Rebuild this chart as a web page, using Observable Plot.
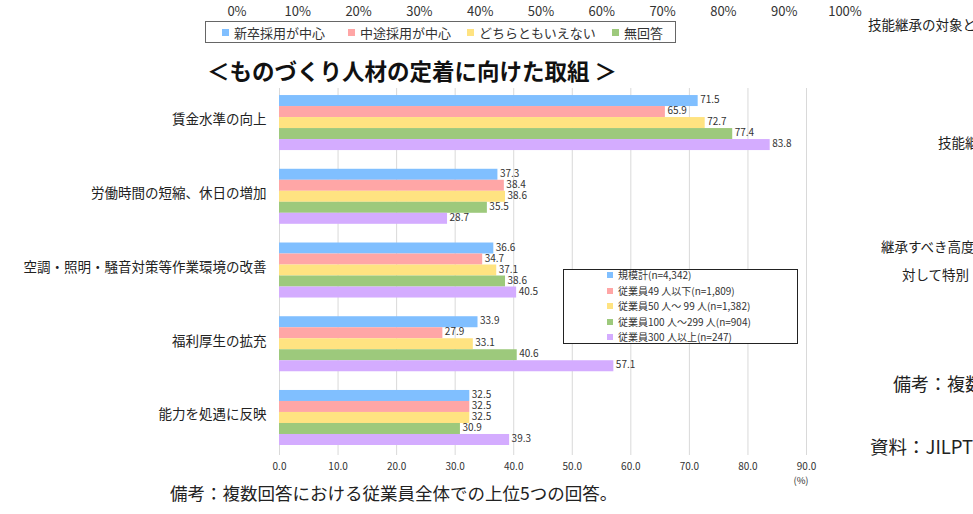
<!DOCTYPE html>
<html>
<head>
<meta charset="utf-8">
<script src="https://cdn.jsdelivr.net/npm/d3@7"></script>
<script src="https://cdn.jsdelivr.net/npm/@observablehq/plot@0.6"></script>
<style>
  body { margin: 0; background: #fff; }
  #wrap {
    position: relative; width: 973px; height: 514px; overflow: hidden;
    font-family: "Noto Sans CJK JP", "Noto Sans", sans-serif; color: #222;
  }
  #wrap svg { position: absolute; left: 0; top: 0; }
  .abs { position: absolute; white-space: nowrap; line-height: 1; }
  .box { position: absolute; box-sizing: border-box; background: #fff; }
  .sw { position: absolute; }
</style>
</head>
<body>
<div id="wrap"></div>
<script>
// 取組項目（従業員全体での上位5つ）
const categories = [
  "賃金水準の向上",
  "労働時間の短縮、休日の増加",
  "空調・照明・騒音対策等作業環境の改善",
  "福利厚生の拡充",
  "能力を処遇に反映"
];

// 企業規模別の回答割合（%）
const seriesNames = [
  "規模計(n=4,342)",
  "従業員49 人以下(n=1,809)",
  "従業員50 人～ 99 人(n=1,382)",
  "従業員100 人～299 人(n=904)",
  "従業員300 人以上(n=247)"
];
const seriesColors = ["#80bfff", "#ffa6a6", "#ffe381", "#9dc97c", "#d4acff"];
const totalAll    = [71.5, 37.3, 36.6, 33.9, 32.5];
const emp1to49    = [65.9, 38.4, 34.7, 27.9, 32.5];
const emp50to99   = [72.7, 38.6, 37.1, 33.1, 32.5];
const emp100to299 = [77.4, 35.5, 38.6, 40.6, 30.9];
const emp300plus  = [83.8, 28.7, 40.5, 57.1, 39.3];
const seriesValues = [totalAll, emp1to49, emp50to99, emp100to299, emp300plus];

const xTicks = [0, 10, 20, 30, 40, 50, 60, 70, 80, 90];

// 上部の採用方針の凡例と百分率目盛
const pctTicks = [0, 10, 20, 30, 40, 50, 60, 70, 80, 90, 100];
const hiringNames = ["新卒採用が中心", "中途採用が中心", "どちらともいえない", "無回答"];
const hiringColors = ["#80bfff", "#ffa6a6", "#ffe381", "#9dc97c"];

// 右側に続く隣の図の文字
const sideTexts = [
  {t: "技能継承の対象と", x: 868, y: 25, s: 13.5},
  {t: "技能継", x: 938, y: 143, s: 13.5},
  {t: "継承すべき高度", x: 881, y: 247, s: 13.5},
  {t: "対して特別", x: 902, y: 275, s: 13.5},
  {t: "備考：複数", x: 893, y: 383, s: 18},
  {t: "資料：JILPT", x: 870, y: 446, s: 18.5}
];

const wrap = document.getElementById("wrap");

// group pitch measured in bar heights
const G = 6.7;
const rows = categories.flatMap((c, gi) =>
  seriesNames.map((s, si) => ({
    category: c,
    series: s,
    value: seriesValues[si][gi],
    y1: gi * G + si,
    y2: gi * G + si + 1
  }))
);

const chart = Plot.plot({
  width: 973,
  height: 514,
  marginLeft: 279,
  marginRight: 167,
  marginTop: 88,
  marginBottom: 59,
  style: {fontFamily: '"Noto Sans CJK JP", "Noto Sans", sans-serif', color: "#333", background: "transparent"},
  x: {domain: [0, 90], ticks: xTicks, tickFormat: d => d.toFixed(1), tickSize: 0, tickPadding: 7, label: null},
  y: {domain: [-0.64, 4 * G + 5 + 0.91], reverse: true, axis: null},
  color: {domain: seriesNames, range: seriesColors},
  marks: [
    Plot.gridX(xTicks, {stroke: "#d9d9d9", strokeOpacity: 1}),
    Plot.rect(rows, {x1: 0, x2: "value", y1: "y1", y2: "y2", fill: "series"}),
    Plot.text(rows, {
      x: "value", y: d => d.y1 + 0.5, text: d => d.value.toFixed(1),
      textAnchor: "start", dx: 2, dy: -1, fontSize: 10, fill: "#333"
    }),
    Plot.text(categories, {
      x: 0, y: (d, i) => i * G + 2.5, text: d => d,
      textAnchor: "end", dx: -13, dy: -3, fontSize: 13.5, fill: "#222"
    })
  ]
});
wrap.appendChild(chart);

function label(text, x, y, size, opts = {}) {
  const el = document.createElement("div");
  el.className = "abs";
  el.textContent = text;
  el.style.fontSize = size + "px";
  el.style.left = x + "px";
  el.style.top = y + "px";
  const tx = opts.anchor === "middle" ? "-50%" : opts.anchor === "end" ? "-100%" : "0";
  el.style.transform = `translate(${tx}, -50%)`;
  if (opts.bold) el.style.fontWeight = "bold";
  if (opts.color) el.style.color = opts.color;
  wrap.appendChild(el);
  return el;
}
function box(x, y, w, h, border) {
  const el = document.createElement("div");
  el.className = "box";
  Object.assign(el.style, {left: x + "px", top: y + "px", width: w + "px", height: h + "px", border});
  wrap.appendChild(el);
}
function swatch(x, y, size, color) {
  const el = document.createElement("div");
  el.className = "sw";
  Object.assign(el.style, {left: x + "px", top: (y - size / 2) + "px", width: size + "px", height: size + "px", background: color});
  wrap.appendChild(el);
}

// percent scale across the top
const pctX = d3.scaleLinear([0, 100], [237, 845]);
pctTicks.forEach(p => label(p + "%", pctX(p), 10, 13, {anchor: "middle", color: "#333"}));

// hiring-policy legend
box(205, 21, 471, 22, "1px solid #666");
const hiringX = [222, 348, 467, 612];
hiringNames.forEach((n, i) => {
  swatch(hiringX[i], 32, 7, hiringColors[i]);
  label(n, hiringX[i] + 12, 32, 13, {color: "#333"});
});

// title
label("＜ものづくり人材の定着に向けた取組 ＞", 207, 70, 22.5, {bold: true, color: "#111"});

// series legend inside the plot
box(563, 269, 235, 75, "1px solid #222");
seriesNames.forEach((n, i) => {
  const y = 275 + i * 15.6;
  swatch(607, y, 6, seriesColors[i]);
  label(n, 618, y, 10, {color: "#333"});
});

// unit
label("(%)", 801, 481, 9.5, {anchor: "middle", color: "#333"});

// note
label("備考：複数回答における従業員全体での上位5つの回答。", 170, 493, 17.5, {color: "#222"});

sideTexts.forEach(d => label(d.t, d.x, d.y, d.s, {color: "#222"}));
</script>
</body>
</html>
